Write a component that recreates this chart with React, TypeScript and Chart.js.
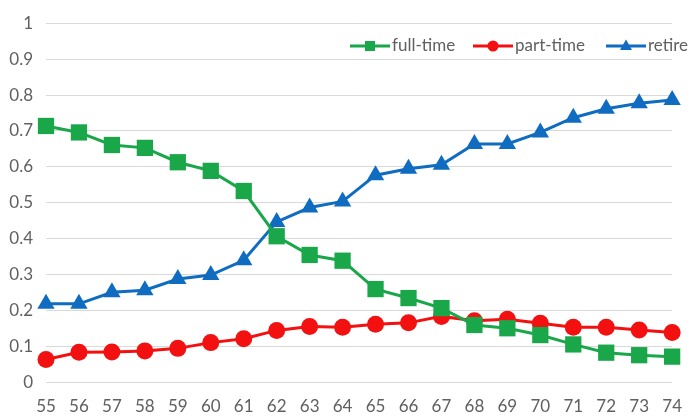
import React, { useEffect, useRef } from "react";
import { Chart, registerables } from "chart.js";

Chart.register(...registerables);

const CATEGORIES = ["55", "56", "57", "58", "59", "60", "61", "62", "63", "64", "65", "66", "67", "68", "69", "70", "71", "72", "73", "74"];
const FULL_TIME = [0.714, 0.696, 0.661, 0.653, 0.613, 0.589, 0.533, 0.407, 0.355, 0.339, 0.26, 0.235, 0.207, 0.16, 0.151, 0.132, 0.106, 0.083, 0.076, 0.072];
const PART_TIME = [0.064, 0.084, 0.085, 0.088, 0.095, 0.111, 0.122, 0.145, 0.156, 0.154, 0.162, 0.166, 0.184, 0.172, 0.176, 0.165, 0.154, 0.154, 0.146, 0.139];
const RETIRE = [0.219, 0.219, 0.251, 0.257, 0.288, 0.299, 0.34, 0.447, 0.487, 0.504, 0.577, 0.595, 0.606, 0.664, 0.664, 0.696, 0.737, 0.762, 0.777, 0.786];
const SERIES_NAMES = ["full-time", "part-time", "retire"];

const GREEN = "#19A74A";
const RED = "#F21010";
const BLUE = "#0F6CC0";
const TEXT = "#606060";
const FONT = "Lato";

const legendPlugin = {
  id: "insideLegend",
  afterDraw(chart: any) {
    const ctx = chart.ctx as CanvasRenderingContext2D;
    const items = [
      { x: 350, color: GREEN, style: "rect" },
      { x: 473, color: RED, style: "circle" },
      { x: 606, color: BLUE, style: "triangle" },
    ];
    const y = 46;
    ctx.save();
    items.forEach((it, i) => {
      ctx.strokeStyle = it.color;
      ctx.fillStyle = it.color;
      ctx.lineWidth = 3;
      ctx.beginPath();
      ctx.moveTo(it.x, y);
      ctx.lineTo(it.x + 40, y);
      ctx.stroke();
      const cx = it.x + 20;
      ctx.beginPath();
      if (it.style === "rect") {
        ctx.rect(cx - 5, y - 5, 10, 10);
      } else if (it.style === "circle") {
        ctx.arc(cx, y, 5.5, 0, Math.PI * 2);
      } else {
        ctx.moveTo(cx, y - 6.5);
        ctx.lineTo(cx + 6, y + 4);
        ctx.lineTo(cx - 6, y + 4);
        ctx.closePath();
      }
      ctx.fill();
      ctx.fillStyle = TEXT;
      ctx.font = `17px ${FONT}`;
      ctx.textBaseline = "middle";
      ctx.textAlign = "left";
      ctx.fillText(SERIES_NAMES[i], it.x + 42, y);
    });
    ctx.restore();
  },
};

export default function App() {
  const canvasRef = useRef<HTMLCanvasElement | null>(null);

  useEffect(() => {
    if (!canvasRef.current) return;
    const chart = new Chart(canvasRef.current, {
      type: "line",
      data: {
        labels: CATEGORIES,
        datasets: [
          {
            label: SERIES_NAMES[0],
            data: FULL_TIME,
            borderColor: GREEN,
            backgroundColor: GREEN,
            borderWidth: 3,
            pointStyle: "rect",
            pointRadius: 11.5,
            pointBorderWidth: 0,
            pointBackgroundColor: GREEN,
            clip: false,
          },
          {
            label: SERIES_NAMES[1],
            data: PART_TIME,
            borderColor: RED,
            backgroundColor: RED,
            borderWidth: 3,
            pointStyle: "circle",
            pointRadius: 8.5,
            pointBorderWidth: 0,
            pointBackgroundColor: RED,
            clip: false,
          },
          {
            label: SERIES_NAMES[2],
            data: RETIRE,
            borderColor: BLUE,
            backgroundColor: BLUE,
            borderWidth: 3,
            pointStyle: "triangle",
            pointRadius: 10,
            pointBorderWidth: 0,
            pointBackgroundColor: BLUE,
            clip: false,
          },
        ],
      },
      options: {
        responsive: true,
        maintainAspectRatio: false,
        animation: false,
        layout: { padding: { top: 19, right: 13, bottom: 0, left: 0 } },
        plugins: {
          legend: { display: false },
          tooltip: { enabled: false },
        },
        scales: {
          x: {
            type: "category",
            offset: false,
            grid: { display: false, drawTicks: false },
            border: { display: false },
            ticks: {
              color: TEXT,
              font: { family: FONT, size: 17 },
              padding: 14,
              maxRotation: 0,
              autoSkip: false,
            },
            afterFit(scale: any) {
              scale.height = 35.5;
            },
          },
          y: {
            min: 0,
            max: 1,
            grid: { color: "#D9D9D9", lineWidth: 1, drawTicks: false },
            border: { display: false },
            ticks: {
              stepSize: 0.1,
              color: TEXT,
              font: { family: FONT, size: 17 },
              padding: 13,
              callback: (v: any) => String(parseFloat(Number(v).toFixed(1))),
            },
            afterFit(scale: any) {
              scale.width = 46;
            },
          },
        },
      },
      plugins: [legendPlugin],
    });
    return () => chart.destroy();
  }, []);

  return (
    <div style={{ position: "absolute", left: 0, top: 0, width: 696, height: 418, background: "#fff" }}>
      <canvas ref={canvasRef} />
    </div>
  );
}
